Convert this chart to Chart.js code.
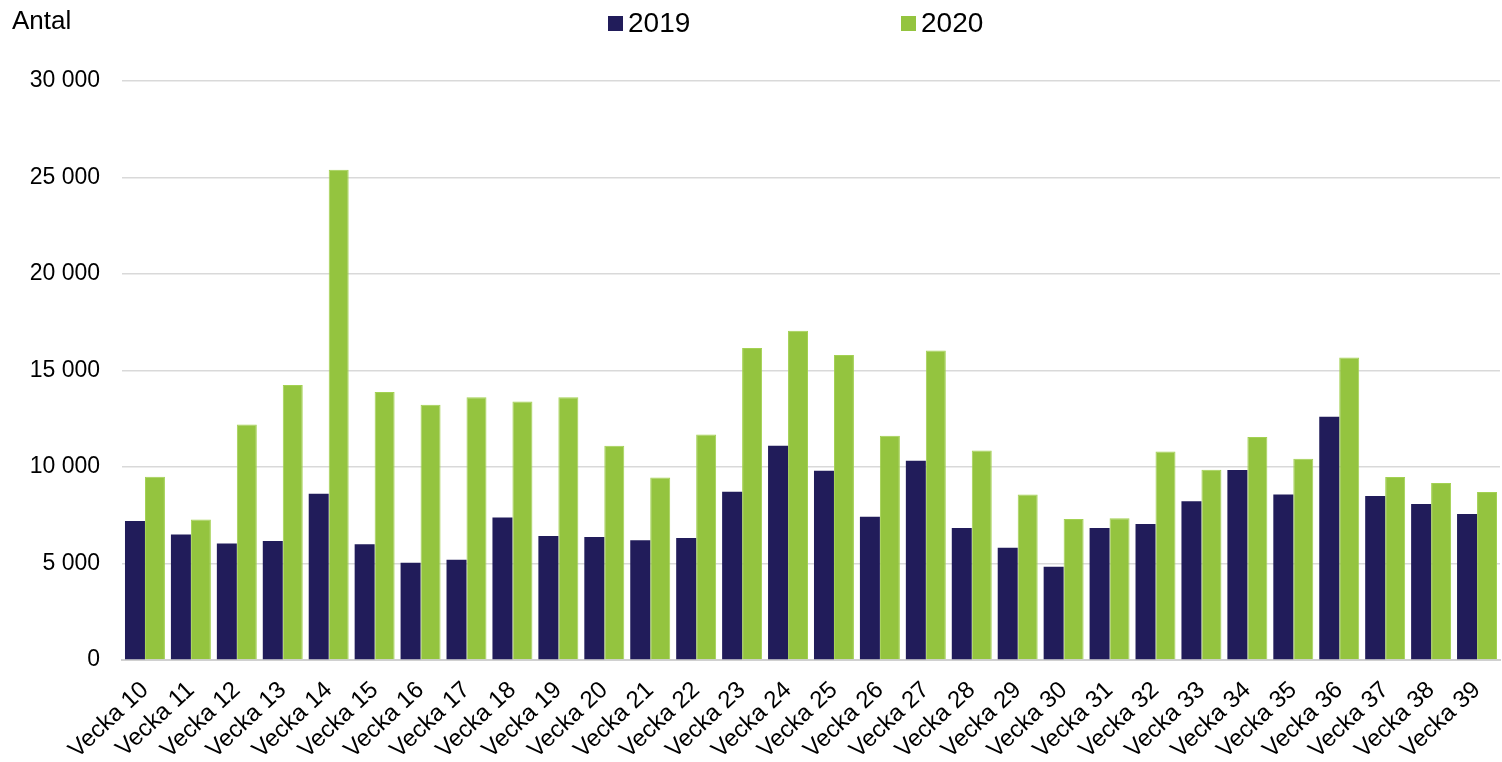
<!DOCTYPE html>
<html lang="sv">
<head>
<meta charset="utf-8">
<script src="https://cdn.jsdelivr.net/npm/chart.js@4.4.1/dist/chart.umd.min.js"></script>
<style>
    html, body { margin: 0; padding: 0; background: #fff; }
    #wrap { position: relative; width: 1502px; height: 762px; font-family: "Liberation Sans", Arial, sans-serif; }
    #yTitle { position: absolute; left: 12px; top: 5px; font-size: 26px; color: #000; }
    #custom-legend { position: absolute; top: 7px; left: 0; width: 1502px; height: 34px; }
    .legend-item { position: absolute; display: flex; align-items: center; font-size: 28px; color: #000; }
    .legend-color-box { display: inline-block; width: 15px; height: 15px; margin-right: 5px; }
</style>
</head>
<body>
<div id="wrap">
    <canvas id="vecktChart" width="1502" height="762"></canvas>
    <div id="yTitle">Antal</div>
    <div id="custom-legend"></div>
</div>
<script>
const veckor = ['Vecka 10', 'Vecka 11', 'Vecka 12', 'Vecka 13', 'Vecka 14', 'Vecka 15', 'Vecka 16', 'Vecka 17', 'Vecka 18', 'Vecka 19',
    'Vecka 20', 'Vecka 21', 'Vecka 22', 'Vecka 23', 'Vecka 24', 'Vecka 25', 'Vecka 26', 'Vecka 27', 'Vecka 28', 'Vecka 29',
    'Vecka 30', 'Vecka 31', 'Vecka 32', 'Vecka 33', 'Vecka 34', 'Vecka 35', 'Vecka 36', 'Vecka 37', 'Vecka 38', 'Vecka 39'];

const antal2019 = [7200, 6500, 6030, 6170, 8620, 6000, 5040, 5200, 7380, 6430,
    6370, 6200, 6320, 8720, 11100, 9800, 7420, 10320, 6840, 5820,
    4830, 6840, 7050, 8220, 9850, 8580, 12600, 8500, 8080, 7570];

const antal2020 = [9500, 7280, 12200, 14250, 25400, 13880, 13220, 13620, 13400, 13620,
    11100, 9450, 11680, 16170, 17060, 15800, 11620, 16030, 10850, 8580,
    7300, 7340, 10800, 9860, 11560, 10430, 15680, 9480, 9170, 8700];

const serier = ['2019', '2020'];
const farger = ['#211c5a', '#94c43f'];

// tusental med mellanslag, t.ex. 30 000
function formatTal(v) {
    return String(v).replace(/\B(?=(\d{3})+(?!\d))/g, ' ');
}

document.addEventListener('DOMContentLoaded', function() {
    const ctx = document.getElementById('vecktChart').getContext('2d');

    const chart = new Chart(ctx, {
        type: 'bar',
        data: {
            labels: veckor,
            datasets: [
                { label: serier[0], data: antal2019, backgroundColor: farger[0], borderWidth: 0 },
                { label: serier[1], data: antal2020, backgroundColor: farger[1], borderColor: '#a3d152', borderWidth: { left: 1, right: 1, top: 1, bottom: 0 } }
            ]
        },
        options: {
            responsive: false,
            animation: false,
            layout: { padding: { top: 81, right: 2, left: 0, bottom: 0 } },
            datasets: { bar: { categoryPercentage: 0.87, barPercentage: 1.0 } },
            plugins: {
                legend: { display: false },
                tooltip: { enabled: false }
            },
            scales: {
                x: {
                    grid: { display: false, drawTicks: false },
                    border: { display: true, color: '#d0d0d0', width: 2 },
                    ticks: {
                        color: '#000',
                        font: { family: '"Liberation Sans", Arial, sans-serif', size: 24 },
                        minRotation: 43,
                        maxRotation: 43,
                        autoSkip: false,
                        padding: 16
                    },
                    afterFit: (scale) => {
                        scale.height = 102;
                        scale.paddingLeft = 0;
                        scale.paddingRight = 0;
                    }
                },
                y: {
                    min: 0,
                    max: 30000,
                    grid: { color: '#d9d9d9', lineWidth: 1.5, drawTicks: false },
                    border: { display: false },
                    ticks: {
                        stepSize: 5000,
                        color: '#000',
                        padding: 22,
                        font: { family: '"Liberation Sans", Arial, sans-serif', size: 23 },
                        callback: (v) => formatTal(v)
                    },
                    afterFit: (scale) => { scale.width = 122; }
                }
            }
        }
    });

    // egen legend, placerad som i originalet
    const legendContainer = document.getElementById('custom-legend');
    const legendX = [608, 901];
    chart.data.datasets.forEach((ds, i) => {
        const item = document.createElement('div');
        item.className = 'legend-item';
        item.style.left = legendX[i] + 'px';
        item.innerHTML = `<span class="legend-color-box" style="background-color: ${ds.backgroundColor}"></span><span class="legend-label">${ds.label}</span>`;
        legendContainer.appendChild(item);
    });
});
</script>
</body>
</html>
